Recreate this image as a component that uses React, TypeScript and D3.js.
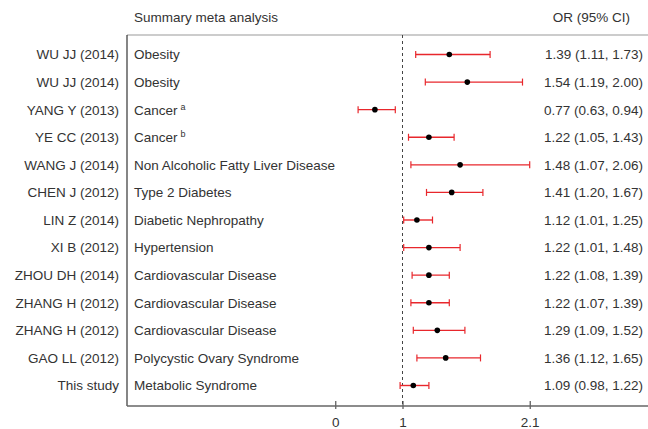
import React, { useEffect, useRef } from "react";
import * as d3 from "d3";

const studies = [
  "WU JJ (2014)", "WU JJ (2014)", "YANG Y (2013)", "YE CC (2013)", "WANG J (2014)",
  "CHEN J (2012)", "LIN Z (2014)", "XI B (2012)", "ZHOU DH (2014)", "ZHANG H (2012)",
  "ZHANG H (2012)", "GAO LL (2012)", "This study",
];
const diseases = [
  "Obesity", "Obesity", "Cancer", "Cancer", "Non Alcoholic Fatty Liver Disease",
  "Type 2 Diabetes", "Diabetic Nephropathy", "Hypertension", "Cardiovascular Disease",
  "Cardiovascular Disease", "Cardiovascular Disease", "Polycystic Ovary Syndrome",
  "Metabolic Syndrome",
];
const notes = ["", "", "a", "b", "", "", "", "", "", "", "", "", ""];
const or = [1.39, 1.54, 0.77, 1.22, 1.48, 1.41, 1.12, 1.22, 1.22, 1.22, 1.29, 1.36, 1.09];
const lower = [1.11, 1.19, 0.63, 1.05, 1.07, 1.2, 1.01, 1.01, 1.08, 1.07, 1.09, 1.12, 0.98];
const upper = [1.73, 2.0, 0.94, 1.43, 2.06, 1.67, 1.25, 1.48, 1.39, 1.39, 1.52, 1.65, 1.22];
// axis ticks as drawn in the original (positions on the OR scale, printed labels)
const tickValues = [0.44, 1, 2.06];
const tickLabels = ["0", "1", "2.1"];

const W = 648;
const H = 429;
const font = "'Liberation Sans', Arial, sans-serif";
const textColor = "#333";

export default function App() {
  const ref = useRef<SVGSVGElement>(null);

  useEffect(() => {
    const svg = d3.select(ref.current);
    svg.selectAll("*").remove();

    const frameLeft = 127;
    const frameTop = 35;
    const axisY = 406;

    const x = d3.scaleLinear().domain([1, 2]).range([402.5, 522.5]);
    const y = d3.scalePoint<number>()
      .domain(d3.range(studies.length))
      .range([54.5, 385.5]);

    // frame
    svg.append("line")
      .attr("x1", frameLeft).attr("x2", W)
      .attr("y1", frameTop).attr("y2", frameTop)
      .attr("stroke", "#999").attr("stroke-width", 1.2);
    svg.append("line")
      .attr("x1", frameLeft).attr("x2", frameLeft)
      .attr("y1", frameTop).attr("y2", axisY)
      .attr("stroke", "#222").attr("stroke-width", 1.1);

    // axis
    const axis = d3.axisBottom(x)
      .tickValues(tickValues)
      .tickSize(0)
      .tickFormat((_, i) => tickLabels[i]);
    const ax = svg.append("g").attr("transform", `translate(0,${axisY})`).call(axis);
    ax.select(".domain").remove();
    ax.append("line")
      .attr("x1", frameLeft).attr("x2", W)
      .attr("stroke", "#666").attr("stroke-width", 1.3);
    ax.selectAll(".tick").append("line")
      .attr("y1", -5).attr("y2", 3)
      .attr("stroke", "#333").attr("stroke-width", 1);
    ax.selectAll(".tick text")
      .attr("y", 11)
      .attr("font-family", font)
      .attr("font-size", 13.5)
      .attr("fill", textColor);

    // reference line at OR = 1
    svg.append("line")
      .attr("x1", x(1)).attr("x2", x(1))
      .attr("y1", frameTop).attr("y2", axisY)
      .attr("stroke", "#444").attr("stroke-width", 1)
      .attr("stroke-dasharray", "3,3");

    // headers
    svg.append("text")
      .attr("x", 134).attr("y", 22)
      .attr("font-family", font).attr("font-size", 13.5).attr("fill", textColor)
      .text("Summary meta analysis");
    svg.append("text")
      .attr("x", 630).attr("y", 22).attr("text-anchor", "end")
      .attr("font-family", font).attr("font-size", 13.5).attr("fill", textColor)
      .text("OR (95% CI)");

    const rows = svg.append("g")
      .selectAll("g")
      .data(d3.range(studies.length))
      .join("g")
      .attr("transform", (i) => `translate(0,${y(i)})`);

    rows.append("text")
      .attr("x", 119).attr("dy", "0.36em").attr("text-anchor", "end")
      .attr("font-family", font).attr("font-size", 13.5).attr("fill", textColor)
      .text((i) => studies[i]);

    const dis = rows.append("text")
      .attr("x", 134).attr("dy", "0.36em")
      .attr("font-family", font).attr("font-size", 13.5).attr("fill", textColor);
    dis.append("tspan").text((i) => diseases[i]);
    dis.append("tspan")
      .attr("dx", 3).attr("dy", -5).attr("font-size", 9)
      .text((i) => notes[i]);

    rows.append("text")
      .attr("x", 643).attr("dy", "0.36em").attr("text-anchor", "end")
      .attr("font-family", font).attr("font-size", 13.5).attr("fill", textColor)
      .text((i) => `${or[i].toFixed(2)} (${lower[i].toFixed(2)}, ${upper[i].toFixed(2)})`);

    const red = "#e8272c";
    rows.append("line")
      .attr("x1", (i) => x(lower[i])).attr("x2", (i) => x(upper[i]))
      .attr("stroke", red).attr("stroke-width", 1.4);
    rows.append("line")
      .attr("x1", (i) => x(lower[i])).attr("x2", (i) => x(lower[i]))
      .attr("y1", -3.5).attr("y2", 3.5)
      .attr("stroke", red).attr("stroke-width", 1.2);
    rows.append("line")
      .attr("x1", (i) => x(upper[i])).attr("x2", (i) => x(upper[i]))
      .attr("y1", -3.5).attr("y2", 3.5)
      .attr("stroke", red).attr("stroke-width", 1.2);
    rows.append("circle")
      .attr("cx", (i) => x(or[i])).attr("r", 2.8)
      .attr("fill", "#000");
  }, []);

  return (
    <svg
      ref={ref}
      width={W}
      height={H}
      style={{ position: "absolute", left: 0, top: 0, background: "#fff" }}
    />
  );
}
